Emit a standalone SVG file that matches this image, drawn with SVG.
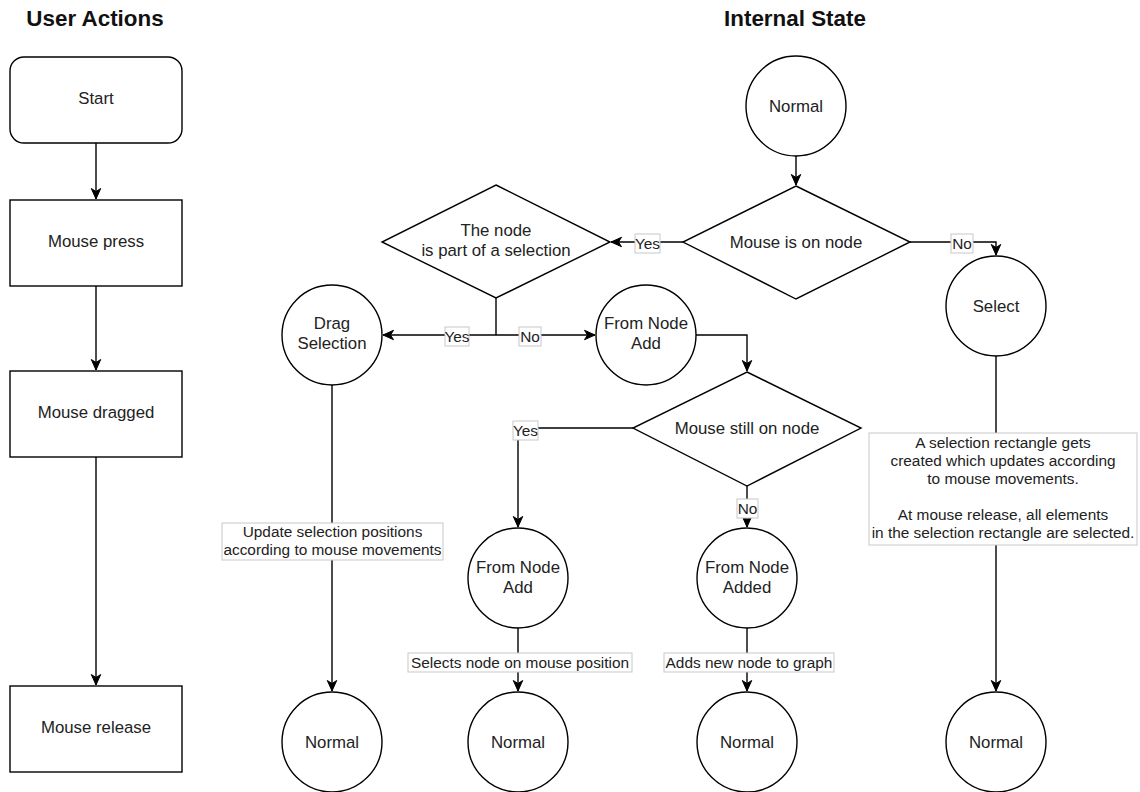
<svg xmlns="http://www.w3.org/2000/svg" width="1140" height="792" viewBox="0 0 1140 792">
<style>
.shape{fill:#fff;stroke:#000;stroke-width:1.4}
.t{font-family:"Liberation Sans",Arial,sans-serif;font-size:16.8px;fill:#222;text-anchor:middle}
.title{font-family:"Liberation Sans",Arial,sans-serif;font-size:22.4px;font-weight:bold;fill:#111;text-anchor:middle}
.edge{fill:none;stroke:#000;stroke-width:1.4;marker-end:url(#arr)}
.line{fill:none;stroke:#000;stroke-width:1.4}
.lb{fill:#fff;stroke:#c8c8c8;stroke-width:1}
.lt{font-family:"Liberation Sans",Arial,sans-serif;font-size:15.4px;fill:#222;text-anchor:middle}
</style>
<defs>
<marker id="arr" markerUnits="userSpaceOnUse" markerWidth="11" markerHeight="11" refX="10.5" refY="5" orient="auto" overflow="visible">
<path d="M0,0.3 L10.5,5 L0,9.7 L3,5 Z" fill="#000" stroke="#000" stroke-width="1"/>
</marker>
</defs>
<rect width="1140" height="792" fill="#fff"/>
<text class="title" x="95" y="26">User Actions</text>
<text class="title" x="795" y="26">Internal State</text>

<g id="connectors">
<path class="edge" d="M96,143 V199"/>
<path class="edge" d="M96,286 V370"/>
<path class="edge" d="M96,457 V685"/>
<path class="edge" d="M796,156 V185"/>
<path class="edge" d="M683,242 H611"/>
<path class="edge" d="M910,242 H996 V255"/>
<path class="line" d="M496,298 V335"/>
<path class="edge" d="M496,335 H383"/>
<path class="edge" d="M496,335 H595"/>
<path class="edge" d="M696,335 H747 V371"/>
<path class="edge" d="M633,428 H518 V527"/>
<path class="edge" d="M747,485 V527"/>
<path class="edge" d="M332,385 V691"/>
<path class="edge" d="M518,628 V691"/>
<path class="edge" d="M747,628 V691"/>
<path class="edge" d="M996,356 V691"/>
<g id="edge-labels">
<rect class="lb" x="635" y="234" width="25" height="19"/><text class="lt" x="647.5" y="249">Yes</text>
<rect class="lb" x="951" y="234" width="22" height="19"/><text class="lt" x="962" y="249">No</text>
<rect class="lb" x="445" y="327" width="24" height="19"/><text class="lt" x="457" y="342">Yes</text>
<rect class="lb" x="519" y="327" width="22" height="19"/><text class="lt" x="530" y="342">No</text>
<rect class="lb" x="513" y="421" width="25" height="19"/><text class="lt" x="525.5" y="436">Yes</text>
<rect class="lb" x="737" y="499" width="21" height="19"/><text class="lt" x="747.5" y="514">No</text>
<rect class="lb" x="222" y="523" width="221" height="37"/>
<text class="lt" x="332.5" y="537">Update selection positions</text>
<text class="lt" x="332.5" y="555">according to mouse movements</text>
<rect class="lb" x="408" y="653" width="224" height="19"/><text class="lt" x="520" y="668">Selects node on mouse position</text>
<rect class="lb" x="664" y="653" width="170" height="19"/><text class="lt" x="749" y="668">Adds new node to graph</text>
<rect class="lb" x="869" y="433" width="268" height="112"/>
<text class="lt" x="1003" y="448">A selection rectangle gets</text>
<text class="lt" x="1003" y="466">created which updates according</text>
<text class="lt" x="1003" y="484">to mouse movements.</text>
<text class="lt" x="1003" y="520">At mouse release, all elements</text>
<text class="lt" x="1003" y="538">in the selection rectangle are selected.</text>
</g>
</g>

<g id="start"><rect class="shape" x="10" y="57" width="172" height="86" rx="14"/><text class="t" x="96" y="104">Start</text></g>
<g id="mouse-press"><rect class="shape" x="10" y="200" width="172" height="86"/><text class="t" x="96" y="247">Mouse press</text></g>
<g id="mouse-dragged"><rect class="shape" x="10" y="371" width="172" height="86"/><text class="t" x="96" y="418">Mouse dragged</text></g>
<g id="mouse-release"><rect class="shape" x="10" y="686" width="172" height="86"/><text class="t" x="96" y="733">Mouse release</text></g>

<g id="normal-top"><circle class="shape" cx="796" cy="106" r="50"/><text class="t" x="796" y="112">Normal</text></g>
<g id="mouse-on-node"><path class="shape" d="M796,186 L910,242 L796,299 L683,242 Z"/><text class="t" x="796" y="248">Mouse is on node</text></g>
<g id="part-of-selection"><path class="shape" d="M496,185 L610,242 L496,298 L382,242 Z"/><text class="t" x="496" y="236">The node</text><text class="t" x="496" y="256">is part of a selection</text></g>
<g id="select"><circle class="shape" cx="996" cy="306" r="50"/><text class="t" x="996" y="312">Select</text></g>
<g id="drag-selection"><circle class="shape" cx="332" cy="335" r="50"/><text class="t" x="332" y="329">Drag</text><text class="t" x="332" y="349">Selection</text></g>
<g id="from-node-add-1"><circle class="shape" cx="646" cy="335" r="50"/><text class="t" x="646" y="329">From Node</text><text class="t" x="646" y="349">Add</text></g>
<g id="mouse-still-on-node"><path class="shape" d="M747,372 L861,428 L747,486 L633,428 Z"/><text class="t" x="747" y="434">Mouse still on node</text></g>
<g id="from-node-add-2"><circle class="shape" cx="518" cy="578" r="50"/><text class="t" x="518" y="573">From Node</text><text class="t" x="518" y="593">Add</text></g>
<g id="from-node-added"><circle class="shape" cx="747" cy="578" r="50"/><text class="t" x="747" y="573">From Node</text><text class="t" x="747" y="593">Added</text></g>
<g id="normal-1"><circle class="shape" cx="332" cy="742" r="50"/><text class="t" x="332" y="748">Normal</text></g>
<g id="normal-2"><circle class="shape" cx="518" cy="742" r="50"/><text class="t" x="518" y="748">Normal</text></g>
<g id="normal-3"><circle class="shape" cx="747" cy="742" r="50"/><text class="t" x="747" y="748">Normal</text></g>
<g id="normal-4"><circle class="shape" cx="996" cy="742" r="50"/><text class="t" x="996" y="748">Normal</text></g>
</svg>
